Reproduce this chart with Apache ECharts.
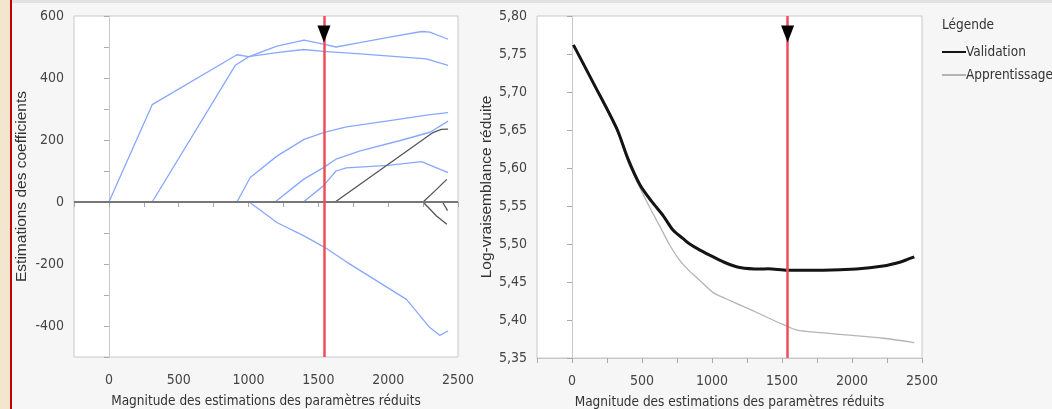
<!DOCTYPE html>
<html>
<head>
<meta charset="utf-8">
<script src="https://cdn.jsdelivr.net/npm/echarts@6/dist/echarts.min.js"></script>
<style>
html, body { margin: 0; padding: 0; background: #f6f6f6; }
#chart { width: 1052px; height: 409px; }
</style>
</head>
<body>
<div id="chart"></div>
<script>
// position retenue sur l'axe des magnitudes
const cutoff = 1540;

// trajectoires des coefficients (magnitude, estimation)
const coefA = [[0, 0], [310, 314], [917, 475], [1000, 469], [1203, 482], [1393, 492], [1536, 486], [1800, 478], [2274, 462], [2429, 441]];
const coefB = [[310, 0], [905, 441], [1000, 468], [1203, 503], [1398, 522], [1536, 509], [1626, 500], [1797, 514], [2000, 531], [2239, 550], [2298, 548], [2429, 525]];
const coefC = [[917, 0], [1012, 79], [1203, 148], [1398, 202], [1536, 224], [1700, 242], [2000, 262], [2300, 282], [2429, 288]];
const coefD = [[1190, 0], [1393, 73], [1536, 111], [1626, 138], [1800, 165], [2100, 200], [2300, 225], [2429, 261]];
const coefE = [[1393, 0], [1536, 52], [1626, 100], [1700, 110], [2000, 118], [2239, 130], [2429, 95]];
const coefF = [[1005, 0], [1203, -66], [1400, -110], [1548, -147], [1700, -193], [2131, -314], [2298, -405], [2369, -430], [2429, -416]];
const coefG = [[1620, 0], [2321, 224], [2380, 234], [2429, 235]];
const coefH = [[2250, 0], [2333, 35], [2390, 60], [2420, 73]];
const coefI = [[2250, 0], [2346, -45], [2420, -72]];
const coefJ = [[2390, 0], [2405, -12], [2425, -28]];

// log-vraisemblance réduite
const validation = [[10, 5.762], [152, 5.712], [319, 5.652], [400, 5.612], [485, 5.578], [569, 5.556], [652, 5.537], [723, 5.518], [794, 5.507], [841, 5.500], [914, 5.492], [1009, 5.483], [1100, 5.475], [1199, 5.469], [1342, 5.467], [1400, 5.4675], [1540, 5.4655], [1794, 5.4655], [2032, 5.467], [2222, 5.471], [2341, 5.476], [2400, 5.480], [2445, 5.483]];
const apprentissage = [[10, 5.762], [152, 5.712], [319, 5.650], [400, 5.608], [462, 5.583], [550, 5.550], [628, 5.523], [700, 5.498], [771, 5.478], [841, 5.464], [890, 5.456], [1009, 5.436], [1100, 5.428], [1271, 5.414], [1400, 5.403], [1509, 5.394], [1600, 5.387], [1675, 5.385], [1913, 5.381], [2222, 5.376], [2425, 5.371], [2445, 5.370]];

const narrow = '"Liberation Sans Narrow", "DejaVu Sans Condensed", sans-serif';
const vertical = '"Liberation Sans", sans-serif';
const gridGray = '#c9c9c9';

const chart = echarts.init(document.getElementById('chart'));

function xAxisFor(gridIndex) {
    return {
        type: 'value', gridIndex, min: -250, max: 2500, interval: 250,
        name: 'Magnitude des estimations des paramètres réduits',
        nameLocation: 'middle', nameGap: 37,
        nameTextStyle: { fontFamily: narrow, fontSize: 13.5, color: '#333' },
        axisLine: { lineStyle: { color: gridGray } },
        axisTick: { lineStyle: { color: '#aaa' }, length: 5 },
        axisLabel: {
            fontFamily: narrow, fontSize: 14, color: '#444', margin: 16,
            formatter: v => (v % 500 === 0 ? String(v) : '')
        },
        splitLine: { show: false }
    };
}

const blue = '#88a8ff';
const dark = '#555';
function pathSeries(data, color) {
    return {
        type: 'line', xAxisIndex: 0, yAxisIndex: 0, data, symbol: 'none',
        lineStyle: { color, width: 1.3 }, silent: true
    };
}

const cutStyle = { color: '#f04d5b', width: 2.5 };
const marker = {
    symbol: 'triangle', symbolRotate: 180, symbolSize: [13, 17],
    itemStyle: { color: '#000' }, label: { show: false }
};

function yAxisBase(gridIndex, name, nameGap) {
    return {
        type: 'value', gridIndex, name, nameLocation: 'middle', nameGap,
        nameTextStyle: { fontFamily: vertical, fontSize: 15.5, color: '#333' },
        axisLine: { show: true, lineStyle: { color: gridGray } },
        axisTick: { show: true, lineStyle: { color: '#aaa' }, length: 5 },
        splitLine: { show: false }
    };
}

const option = {
    animation: false,
    backgroundColor: '#f6f6f6',
    graphic: [
        { type: 'rect', shape: { x: 0, y: 0, width: 10, height: 409 }, style: { fill: '#f4e5cf' } },
        { type: 'rect', shape: { x: 10, y: 0, width: 2, height: 409 }, style: { fill: '#c40000' } },
        { type: 'rect', shape: { x: 12, y: 0, width: 1040, height: 3 }, style: { fill: '#e2e2e2' } },
        { type: 'text', left: 942, top: 18, style: { text: 'Légende', font: '13.5px ' + narrow, fill: '#333' } }
    ],
    legend: {
        data: ['Validation', 'Apprentissage'],
        orient: 'vertical', left: 941, top: 45,
        itemWidth: 24, itemHeight: 12, itemGap: 9, padding: 0,
        itemStyle: { opacity: 0 },
        textStyle: { fontFamily: narrow, fontSize: 13.5, color: '#333', padding: [0, 0, 0, -5] }
    },
    grid: [
        { left: 74, top: 16, width: 384, height: 341, outerBoundsMode: 'none', show: true, backgroundColor: '#fff', borderColor: gridGray },
        { left: 537, top: 16, width: 385, height: 342, outerBoundsMode: 'none', show: true, backgroundColor: '#fff', borderColor: gridGray }
    ],
    xAxis: [xAxisFor(0), xAxisFor(1)],
    yAxis: [
        {
            ...yAxisBase(0, 'Estimations des coefficients', 44),
            min: -500, max: 600, interval: 100,
            axisLabel: {
                fontFamily: narrow, fontSize: 14, color: '#444', margin: 10,
                formatter: v => (v % 200 === 0 ? String(v) : '')
            }
        },
        {
            ...yAxisBase(1, 'Log-vraisemblance réduite', 42),
            min: 5.35, max: 5.80, interval: 0.05,
            axisLabel: {
                fontFamily: narrow, fontSize: 14, color: '#444', margin: 10,
                formatter: v => v.toFixed(2).replace('.', ',')
            }
        }
    ],
    series: [
        {
            ...pathSeries(coefA, blue),
            markLine: {
                silent: true, symbol: 'none', label: { show: false },
                data: [
                    { yAxis: 0, lineStyle: { color: '#777', width: 2, type: 'solid' } }
                ]
            }
        },
        pathSeries(coefB, blue),
        pathSeries(coefC, blue),
        pathSeries(coefD, blue),
        pathSeries(coefE, blue),
        pathSeries(coefF, blue),
        pathSeries(coefG, dark),
        pathSeries(coefH, dark),
        pathSeries(coefI, dark),
        {
            ...pathSeries(coefJ, dark),
            markLine: {
                silent: true, symbol: 'none', label: { show: false },
                data: [{ xAxis: cutoff, lineStyle: { ...cutStyle, type: 'solid' } }]
            },
            markPoint: { ...marker, data: [{ coord: [cutoff, 600], symbolOffset: [0, 18] }] }
        },
        {
            name: 'Apprentissage', type: 'line', xAxisIndex: 1, yAxisIndex: 1,
            data: apprentissage, symbol: 'none', smooth: 0.3,
            lineStyle: { color: '#b4b4b4', width: 1.3 }, itemStyle: { color: '#b4b4b4' }
        },
        {
            name: 'Validation', type: 'line', xAxisIndex: 1, yAxisIndex: 1,
            data: validation, symbol: 'none', smooth: 0.3,
            lineStyle: { color: '#141414', width: 3 }, itemStyle: { color: '#141414' },
            markLine: {
                silent: true, symbol: 'none', label: { show: false },
                data: [{ xAxis: cutoff, lineStyle: { ...cutStyle, type: 'solid' } }]
            },
            markPoint: { ...marker, data: [{ coord: [cutoff, 5.80], symbolOffset: [0, 18] }] }
        }
    ]
};

chart.setOption(option);
</script>
</body>
</html>
